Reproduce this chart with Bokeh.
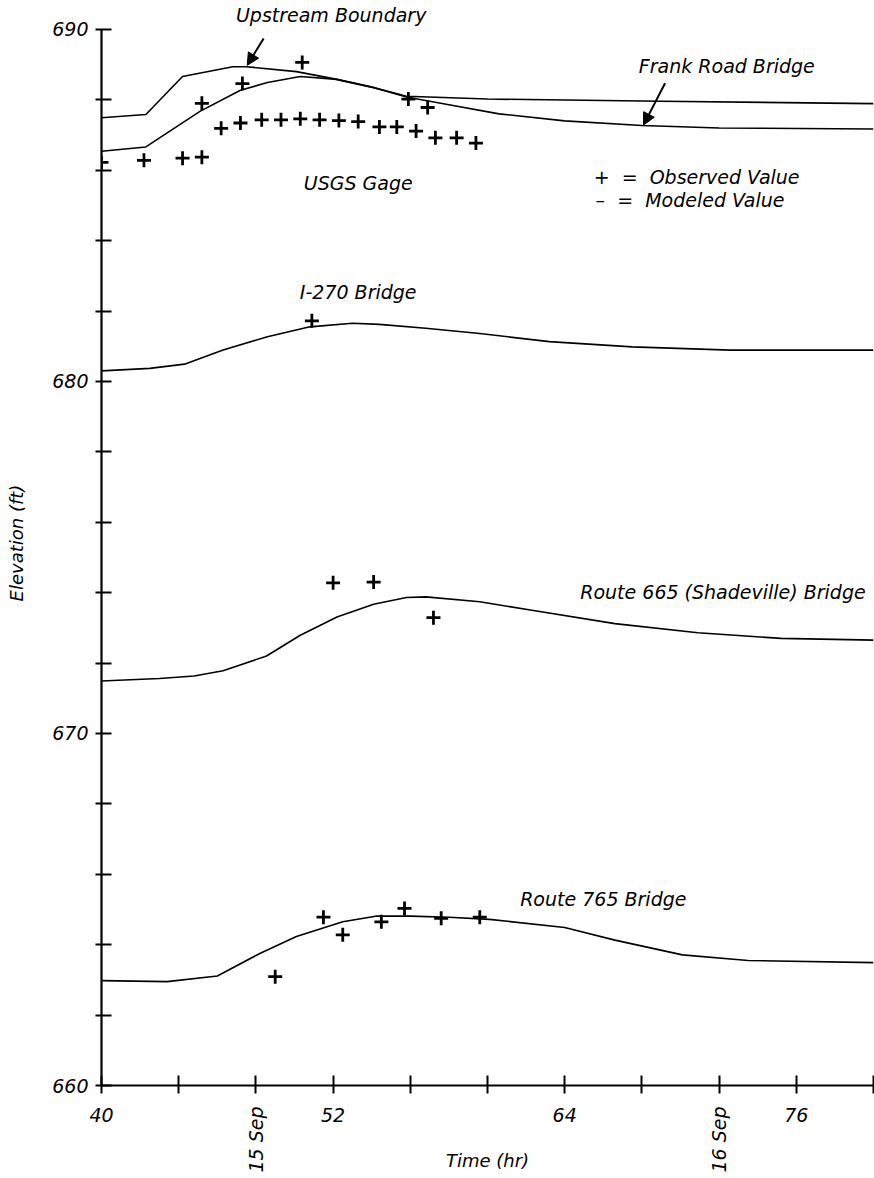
from bokeh.plotting import figure
from bokeh.models import Label, Arrow, NormalHead, FixedTicker, Range1d, LinearAxis
from bokeh.embed import file_html
from bokeh.resources import INLINE
import math

FONT = "DejaVu Sans"

# ---- data ----
upstream_t = [40.0, 42.3, 44.2, 46.8, 47.5, 50.1, 52.0, 54.0, 55.8, 60.0, 69.0, 80.0]
upstream_z = [687.49, 687.58, 688.66, 688.94, 688.94, 688.8, 688.6, 688.36, 688.1, 688.02, 687.96, 687.89]

frank_t = [40.0, 42.3, 45.1, 47.2, 48.6, 50.3, 52.2, 54.0, 55.8, 58.0, 60.6, 64.0, 68.0, 72.0, 80.0]
frank_z = [686.54, 686.66, 687.67, 688.27, 688.49, 688.66, 688.58, 688.36, 688.08, 687.86, 687.6, 687.4, 687.27, 687.2, 687.17]

frank_obs_t = [45.2, 47.3, 50.4, 55.9, 56.9]
frank_obs_z = [687.9, 688.46, 689.06, 688.02, 687.78]

usgs_obs_t = [40.0, 42.2, 44.2, 45.2, 46.2, 47.2, 48.3, 49.3, 50.3, 51.3, 52.3, 53.3,
              54.4, 55.3, 56.3, 57.3, 58.4, 59.4]
usgs_obs_z = [686.22, 686.28, 686.34, 686.37, 687.19, 687.34, 687.43, 687.43, 687.46, 687.43,
              687.41, 687.38, 687.23, 687.23, 687.11, 686.92, 686.92, 686.77]

i270_t = [40.0, 42.5, 44.3, 46.3, 48.6, 50.8, 53.0, 54.4, 56.8, 59.6, 63.2, 67.5, 72.6, 80.0]
i270_z = [680.3, 680.37, 680.49, 680.89, 681.27, 681.55, 681.65, 681.62, 681.51, 681.36,
          681.13, 680.98, 680.89, 680.89]
i270_obs_t = [50.9]
i270_obs_z = [681.72]

r665_t = [40.0, 43.0, 44.8, 46.3, 48.55, 50.3, 52.2, 54.1, 55.8, 56.8, 59.6, 62.3, 66.6,
          70.9, 75.2, 80.0]
r665_z = [671.49, 671.56, 671.63, 671.78, 672.2, 672.79, 673.31, 673.67, 673.86, 673.88,
          673.74, 673.5, 673.12, 672.86, 672.7, 672.65]
r665_obs_t = [52.0, 54.1, 57.2]
r665_obs_z = [674.28, 674.3, 673.29]

r765_t = [40.0, 43.4, 46.0, 48.2, 50.1, 52.5, 54.2, 56.0, 58.0, 60.1, 64.0, 66.6, 70.1, 73.5, 80.0]
r765_z = [662.98, 662.95, 663.11, 663.75, 664.23, 664.65, 664.81, 664.81, 664.78, 664.72,
          664.49, 664.13, 663.71, 663.55, 663.49]
r765_obs_t = [49.0, 51.5, 52.5, 54.5, 55.7, 57.6, 59.6]
r765_obs_z = [663.09, 664.78, 664.28, 664.65, 665.03, 664.75, 664.78]

x_major = [40, 52, 64, 76]
x_minor = [44, 48, 56, 60, 68, 72, 80]
date_ticks = [48, 72]
date_labels = ["15 Sep", "16 Sep"]
y_major = [660, 670, 680, 690]
y_minor = [662, 664, 666, 668, 672, 674, 676, 678, 682, 684, 686, 688]

# ---- figure ----
p = figure(width=874, height=1178, output_backend="svg", toolbar_location=None,
           x_range=Range1d(40, 80), y_range=Range1d(660, 690.82),
           min_border_left=101, min_border_right=1, min_border_top=0, min_border_bottom=93)
p.outline_line_color = None
p.grid.visible = False
p.background_fill_color = "white"
p.border_fill_color = "white"

for t, z in [(upstream_t, upstream_z), (frank_t, frank_z), (i270_t, i270_z),
             (r665_t, r665_z), (r765_t, r765_z)]:
    p.line(t, z, line_color="black", line_width=1.6)

for t, z in [(frank_obs_t, frank_obs_z), (usgs_obs_t, usgs_obs_z), (i270_obs_t, i270_obs_z),
             (r665_obs_t, r665_obs_z), (r765_obs_t, r765_obs_z)]:
    p.scatter(t, z, marker="cross", size=14, line_color="black", line_width=2.8)

date_axis = LinearAxis(ticker=FixedTicker(ticks=date_ticks),
                       major_label_overrides={t: s for t, s in zip(date_ticks, date_labels)})
p.add_layout(date_axis, "below")

for ax in (p.xaxis[0], p.yaxis[0], date_axis):
    ax.axis_line_width = 2.2
    ax.axis_line_color = "black"
    ax.major_tick_line_width = 2
    ax.minor_tick_line_width = 2
    ax.major_tick_line_color = "black"
    ax.minor_tick_line_color = "black"
    ax.major_label_text_font = FONT
    ax.major_label_text_font_style = "italic"
    ax.major_label_text_font_size = "19px"
    ax.major_label_text_color = "black"
    ax.axis_label_text_font = FONT
    ax.axis_label_text_font_style = "italic"
    ax.axis_label_text_font_size = "18px"
    ax.axis_label_text_color = "black"

xa = p.xaxis[0]
xa.ticker = FixedTicker(ticks=x_major, minor_ticks=x_minor)
xa.major_tick_in = 10
xa.major_tick_out = 8
xa.minor_tick_in = 10
xa.minor_tick_out = 8
xa.major_label_standoff = 14
xa.bounds = (40, 80)

date_axis.axis_line_color = None
date_axis.major_tick_line_color = None
date_axis.minor_tick_line_color = None
date_axis.major_tick_in = 0
date_axis.major_tick_out = 0
date_axis.minor_tick_in = 0
date_axis.minor_tick_out = 0
date_axis.major_label_orientation = math.pi / 2
date_axis.major_label_standoff = -18
date_axis.axis_label = "Time (hr)"
date_axis.axis_label_standoff = -26

ya = p.yaxis[0]
ya.ticker = FixedTicker(ticks=y_major, minor_ticks=y_minor)
ya.bounds = (660, 690)
ya.major_tick_in = 10
ya.major_tick_out = 6
ya.minor_tick_in = 10
ya.minor_tick_out = 6
ya.major_label_standoff = 7
ya.axis_label = "Elevation (ft)"
ya.axis_label_standoff = 22

NB = "\u00a0"

def lab(x, y, text, align="center"):
    p.add_layout(Label(x=x, y=y, text=text, text_font=FONT, text_font_style="italic",
                       text_font_size="19px", text_align=align, text_baseline="middle",
                       text_color="black"))

lab(51.9, 690.40, "Upstream Boundary")
lab(72.4, 688.95, "Frank Road Bridge")
lab(53.3, 685.63, "USGS Gage")
lab(65.5, 685.80, "+" + NB * 2 + "=" + NB * 2 + "Observed Value", align="left")
lab(65.6, 685.15, "\u2013" + NB * 2 + "=" + NB * 2 + "Modeled Value", align="left")
lab(53.3, 682.53, "I-270 Bridge")
lab(72.2, 674.02, "Route 665 (Shadeville) Bridge")
lab(66.0, 665.30, "Route 765 Bridge")

for xs, ys, xe, ye in [(48.4, 689.74, 47.55, 688.98), (69.2, 688.47, 68.08, 687.28)]:
    p.add_layout(Arrow(end=NormalHead(size=12, fill_color="black", line_color="black"),
                       x_start=xs, y_start=ys, x_end=xe, y_end=ye,
                       line_width=2, line_color="black"))

open("out.html", "w").write(file_html(p, INLINE))
